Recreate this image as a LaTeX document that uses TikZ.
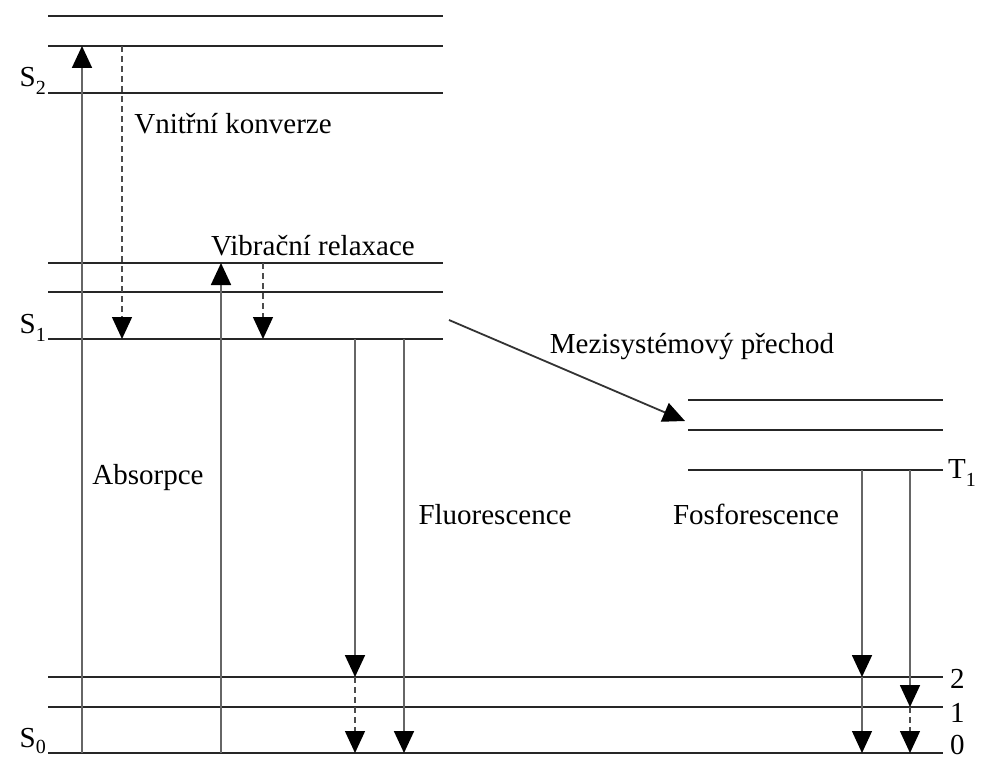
\documentclass[tikz,border=0pt]{standalone}
\usepackage{fontspec}
\setmainfont{Liberation Serif}
\usetikzlibrary{arrows.meta}
\begin{document}
\begin{tikzpicture}[x=1pt,y=-1pt,
  level/.style={line width=1.9pt,black!85},
  trans/.style={line width=1.8pt,black!60,-{Triangle[width=20pt,length=22pt,fill=black,color=black]}},
  relax/.style={line width=1.4pt,black!70,dash pattern=on 6pt off 4pt,-{Triangle[width=20pt,length=22pt,fill=black,color=black]}},
  lbl/.style={font=\fontsize{29}{33}\selectfont,inner sep=0pt},
  sub/.style={font=\fontsize{29}{33}\selectfont,inner sep=0pt}]
\useasboundingbox (0,0) rectangle (983,760);
\fill[white] (0,0) rectangle (983,760);
% levels S2
\foreach \n/\y in {a/16,b/46,c/93}{\draw[level] (48,\y) coordinate (s2\n l) -- (443,\y) coordinate (s2\n r);}
% S1
\foreach \n/\y in {a/263,b/292,c/339}{\draw[level] (48,\y) coordinate (s1\n l) -- (443,\y) coordinate (s1\n r);}
% T1
\foreach \n/\y in {a/400,b/430,c/470}{\draw[level] (688,\y) coordinate (t1\n l) -- (943,\y) coordinate (t1\n r);}
% S0
\foreach \n/\y in {a/677,b/707,c/753}{\draw[level] (48,\y) coordinate (s0\n l) -- (943,\y) coordinate (s0\n r);}
% coordinates for transitions
\coordinate (ab1s) at (82,753); \coordinate (ab1e) at (82,46);
\coordinate (ab2s) at (221,753); \coordinate (ab2e) at (221,263);
\coordinate (ics) at (122,46); \coordinate (ice) at (122,339);
\coordinate (vrs) at (263,263); \coordinate (vre) at (263,339);
\coordinate (f1s) at (355,339); \coordinate (f1m) at (355,677); \coordinate (f1e) at (355,753);
\coordinate (f2s) at (404,339); \coordinate (f2e) at (404,753);
\coordinate (iscs) at (449,320); \coordinate (isce) at (685,421);
\coordinate (p1s) at (862,470); \coordinate (p1m) at (862,677); \coordinate (p1e) at (862,753);
\coordinate (p2s) at (910,470); \coordinate (p2m) at (910,707); \coordinate (p2e) at (910,753);
\draw[trans] (ab1s) -- (ab1e);
\draw[trans] (ab2s) -- (ab2e);
\draw[relax] (ics) -- (ice);
\draw[relax] (vrs) -- (vre);
\draw[trans] (f1s) -- (f1m);
\draw[relax] (f1m) -- (f1e);
\draw[trans] (f2s) -- (f2e);
\draw[trans,black!80] (iscs) -- (isce);
\draw[trans] (p1s) -- (p1m);
\draw[trans,line width=1.2pt] (p1m) -- (p1e);
\draw[trans] (p2s) -- (p2m);
\draw[relax] (p2m) -- (p2e);
% labels
\node[sub,anchor=base east] (S2) at (46,86) {S\raisebox{-0.3em}{\fontsize{20}{24}\selectfont 2}};
\node[sub,anchor=base east] (S1) at (46,333) {S\raisebox{-0.3em}{\fontsize{20}{24}\selectfont 1}};
\node[sub,anchor=base east] (S0) at (46,747) {S\raisebox{-0.22em}{\fontsize{20}{24}\selectfont 0}};
\node[sub,anchor=base west] (T1) at (948,478) {T\raisebox{-0.3em}{\fontsize{20}{24}\selectfont 1}};
\node[lbl,anchor=base west] (v2) at (950,688) {2};
\node[lbl,anchor=base west] (v1) at (950,722) {1};
\node[lbl,anchor=base west] (v0) at (950,754) {0};
\node[lbl,anchor=base] (ic) at (233,133) {Vnitřní konverze};
\node[lbl,anchor=base] (vr) at (313,255) {Vibrační relaxace};
\node[lbl,anchor=base] (isc) at (692,353) {Mezisystémový přechod};
\node[lbl,anchor=base] (abs) at (148,484) {Absorpce};
\node[lbl,anchor=base] (fl) at (495,524) {Fluorescence};
\node[lbl,anchor=base] (ph) at (756,524) {Fosforescence};
\end{tikzpicture}
\end{document}
